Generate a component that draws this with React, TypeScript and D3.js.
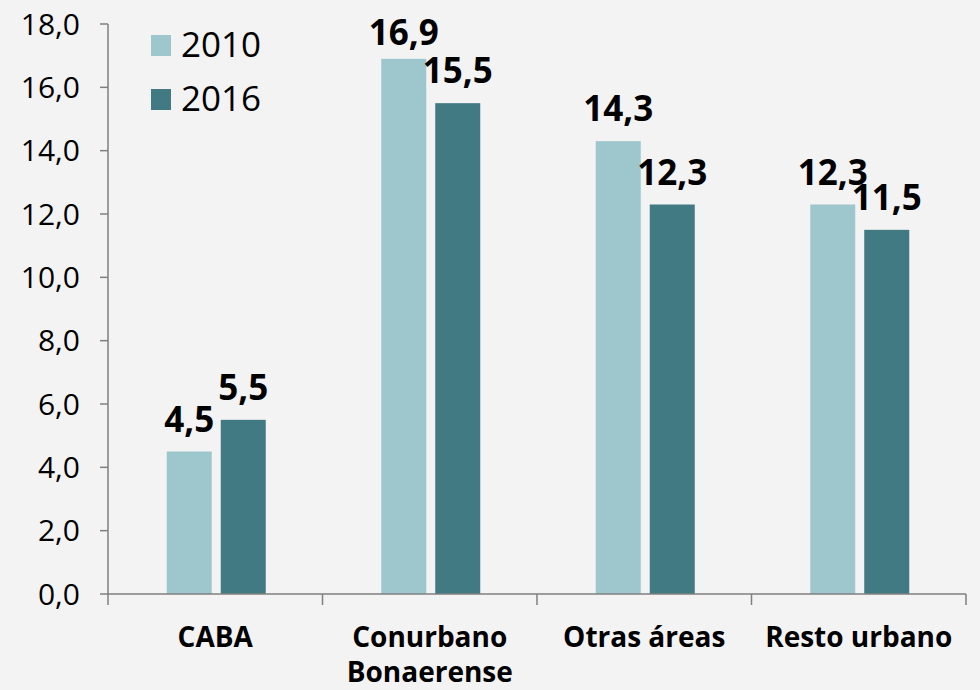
import React from "react";
import * as d3 from "d3";

const categoryLines: string[][] = [["CABA"], ["Conurbano", "Bonaerense"], ["Otras áreas"], ["Resto urbano"]];
const categories = categoryLines.map((l) => l.join(" "));
const seriesNames = ["2010", "2016"];
const values2010 = [4.5, 16.9, 14.3, 12.3];
const values2016 = [5.5, 15.5, 12.3, 11.5];
const yTicks = [0, 2, 4, 6, 8, 10, 12, 14, 16, 18];
const colors = ["#9ec6cd", "#427a83"];

const W = 980;
const H = 690;
const FONT = "'Open Sans', 'Lato', sans-serif";

export default function App() {
  const x = d3.scaleBand<string>().domain(categories).range([108, 966]).paddingInner(0).paddingOuter(0);
  const groupW = 99;
  const xs = d3.scaleBand<string>().domain(seriesNames).range([0, groupW]).paddingInner(9 / 54).paddingOuter(0);
  const y = d3.scaleLinear().domain([0, 18]).range([594, 24]);
  const series = [values2010, values2016];
  const fmt = (v: number) => v.toFixed(1).replace(".", ",");
  const axisColor = "#7f7f7f";

  return (
    <svg width={W} height={H} style={{ position: "absolute", left: 0, top: 0, background: "#f3f3f3" }}>
      <rect x={0} y={0} width={W} height={H} fill="#f3f3f3" />
      {/* bars */}
      {categories.map((c, ci) => {
        const gx = x(c)! + x.bandwidth() / 2 - groupW / 2 + 1;
        return seriesNames.map((s, si) => {
          const v = series[si][ci];
          return (
            <rect
              key={c + s}
              x={gx + xs(s)!}
              y={y(v)}
              width={xs.bandwidth()}
              height={y(0) - y(v)}
              fill={colors[si]}
            />
          );
        });
      })}
      {/* y axis */}
      <line x1={108} x2={108} y1={y(18)} y2={y(0)} stroke={axisColor} strokeWidth={1.5} />
      {yTicks.map((t) => (
        <g key={t}>
          <line x1={100} x2={108} y1={y(t)} y2={y(t)} stroke={axisColor} strokeWidth={1.5} />
          <text x={80} y={y(t)} dy="0.36em" textAnchor="end" fontFamily={FONT} fontSize={30} fill="#000">
            {fmt(t)}
          </text>
        </g>
      ))}
      {/* x axis */}
      <line x1={x.range()[0]} x2={x.range()[1]} y1={y(0)} y2={y(0)} stroke={axisColor} strokeWidth={1.5} />
      {categories.map((c) => (
        <line key={c} x1={x(c)! + x.bandwidth()} x2={x(c)! + x.bandwidth()} y1={y(0)} y2={y(0) + 11} stroke={axisColor} strokeWidth={1.5} />
      ))}
      <line x1={x.range()[0]} x2={x.range()[0]} y1={y(0)} y2={y(0) + 11} stroke={axisColor} strokeWidth={1.5} />
      {categoryLines.map((lines, ci) => (
        <text key={ci} textAnchor="middle" fontFamily={FONT} fontWeight="bold" fontSize={28} fill="#000">
          {lines.map((ln, li) => (
            <tspan key={li} x={x(categories[ci])! + x.bandwidth() / 2} y={647 + li * 35}>
              {ln}
            </tspan>
          ))}
        </text>
      ))}
      {/* value labels */}
      {categories.map((c, ci) => {
        const gx = x(c)! + x.bandwidth() / 2 - groupW / 2 + 1;
        return seriesNames.map((s, si) => {
          const v = series[si][ci];
          const by = Math.max(y(v) - 20, y(18) + 21);
          return (
            <text
              key={"l" + c + s}
              x={gx + xs(s)! + xs.bandwidth() / 2}
              y={by}
              textAnchor="middle"
              fontFamily={FONT}
              fontWeight="bold"
              fontSize={35}
              fill="#000"
            >
              {fmt(v)}
            </text>
          );
        });
      })}
      {/* legend */}
      {seriesNames.map((s, si) => (
        <g key={"lg" + s}>
          <rect x={151} y={35 + si * 54} width={20} height={21} fill={colors[si]} />
          <text x={181} y={57 + si * 54} fontFamily={FONT} fontSize={35} fill="#000">
            {s}
          </text>
        </g>
      ))}
    </svg>
  );
}
